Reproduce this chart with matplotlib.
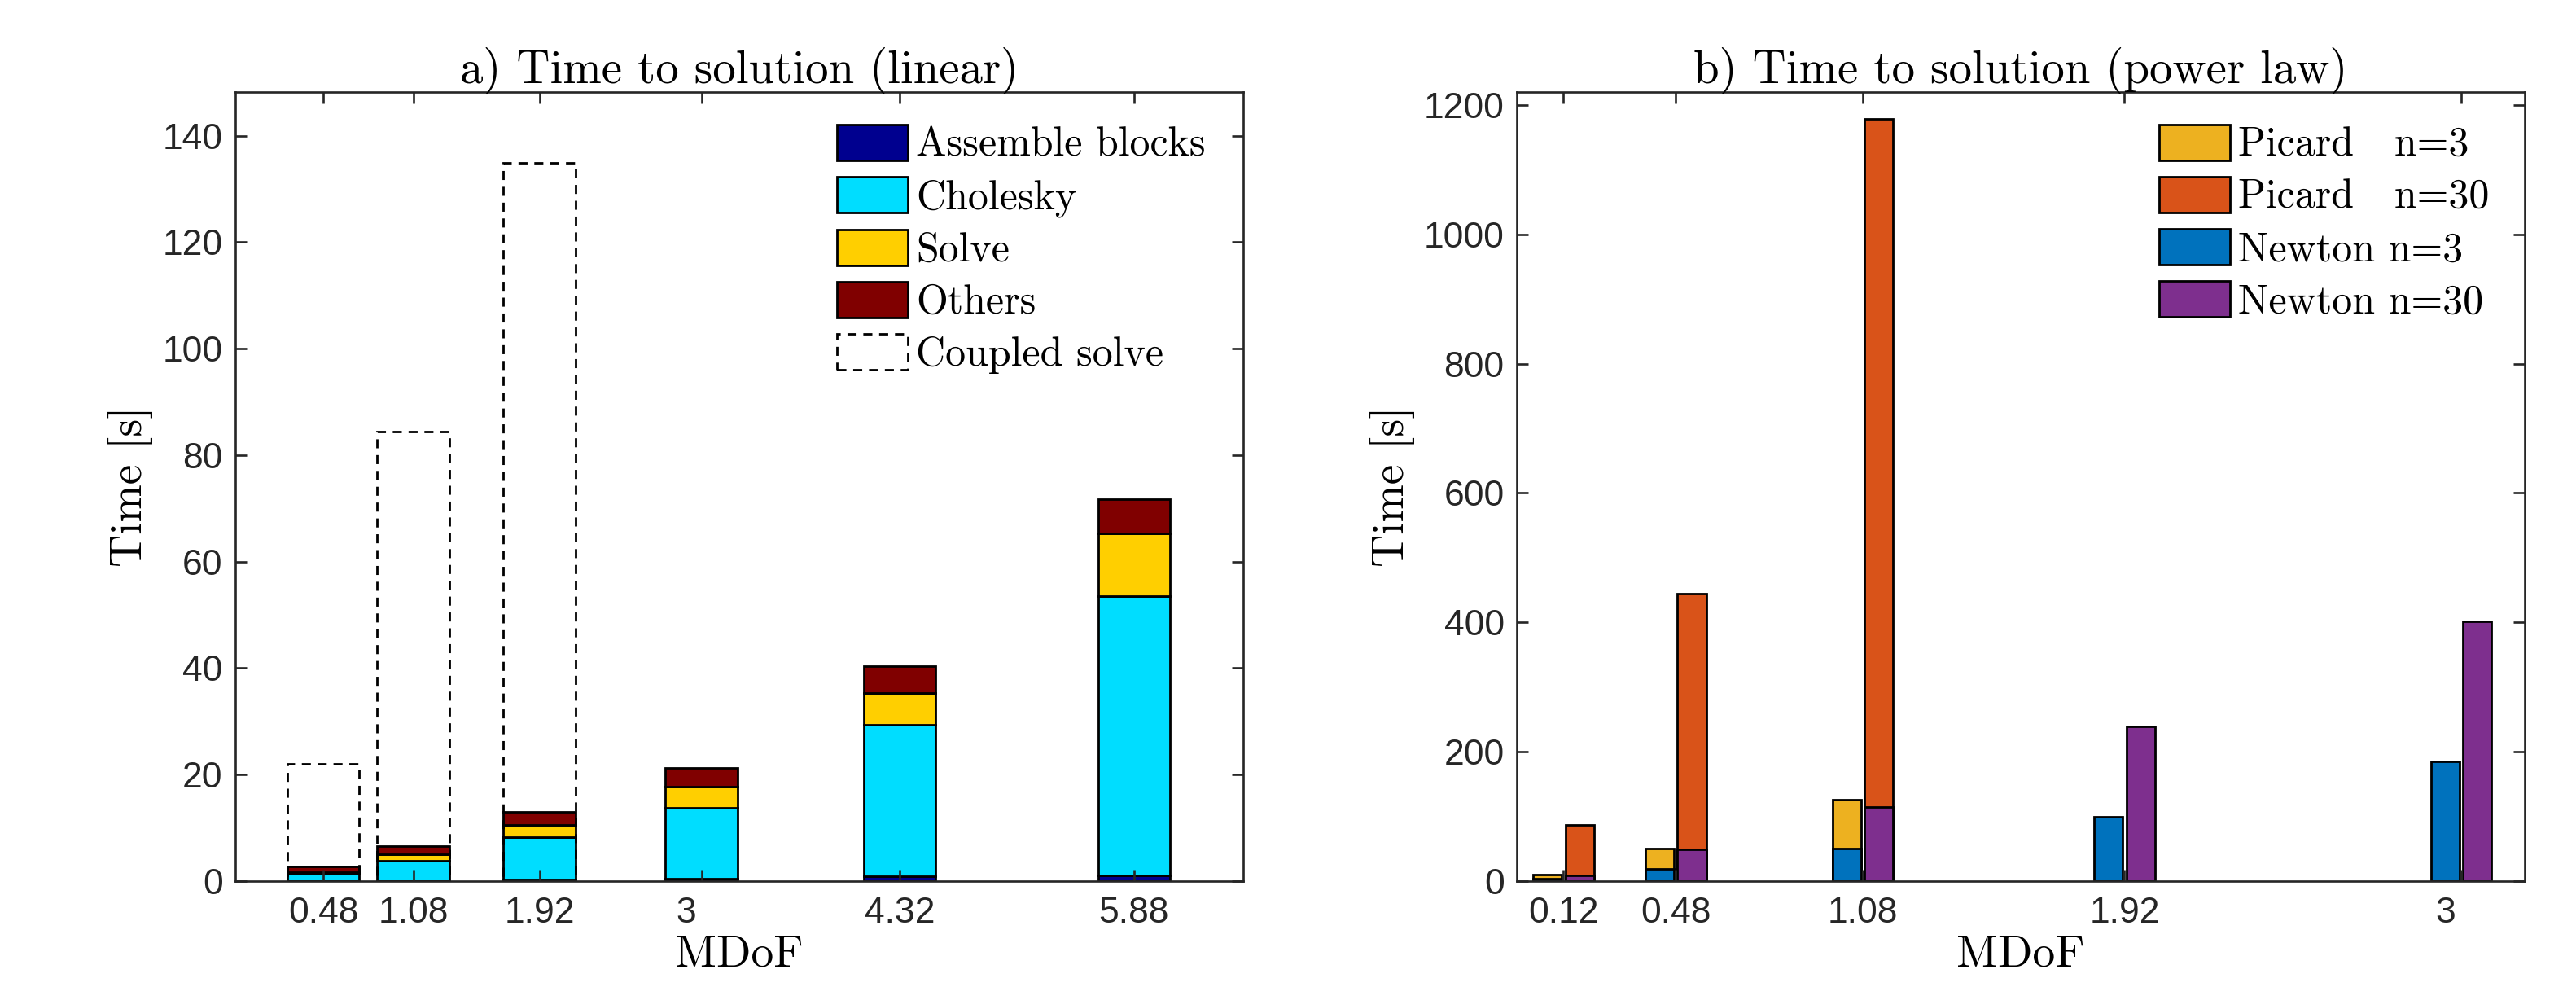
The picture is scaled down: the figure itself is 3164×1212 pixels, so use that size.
import numpy as np
import matplotlib.pyplot as plt
from matplotlib.patches import Patch
from matplotlib.transforms import ScaledTranslation

# a) linear case, stacked times per MDoF
mdof_lin = [0.48, 1.08, 1.92, 3, 4.32, 5.88]
assemble = [0.1, 0.1, 0.3, 0.5, 0.9, 1.1]
cholesky = [1.3, 3.8, 8.0, 13.3, 28.4, 52.5]
solve = [0.3, 1.2, 2.3, 4.0, 6.0, 11.7]
others = [1.1, 1.5, 2.4, 3.5, 5.0, 6.5]
mdof_coupled = [0.48, 1.08, 1.92]
coupled = [22.1, 84.4, 134.9]

# b) power law case
mdof_pow = [0.12, 0.48, 1.08, 1.92, 3]
picard_n3 = [10.5, 50.5, 126.5, np.nan, np.nan]
picard_n30 = [87.5, 444, 1178, np.nan, np.nan]
newton_n3 = [3.5, 19.5, 50.5, 99.3, 185]
newton_n30 = [9, 48.5, 114.5, 239.6, 402]

plt.rcParams['font.family'] = ['Liberation Sans', 'DejaVu Sans']
axcol = '#262626'
cm = 'cmr10'

fig = plt.figure(figsize=(31.64, 12.12), dpi=100)
W, H = 3164, 1212
ax1 = fig.add_axes([289 / W, (H - 1082) / H, 1238 / W, 969 / H])
ax2 = fig.add_axes([1863 / W, (H - 1082) / H, 1238 / W, 969 / H])


def style(ax):
    for s in ax.spines.values():
        s.set_color(axcol)
        s.set_linewidth(1.9)
    ax.tick_params(direction='in', top=True, right=True, length=10, width=1.9,
                   color=axcol, labelcolor=axcol, labelsize=32)
    ax.tick_params(axis='y', pad=11)
    ax.tick_params(axis='x', pad=14)


leg_kw = dict(loc='upper left', frameon=False, borderpad=0, borderaxespad=0,
              prop={'family': cm, 'size': 36}, handlelength=1.74,
              handleheight=0.98, handletextpad=0.2, labelspacing=0.3)

# ---- left panel
ek = dict(edgecolor='black', linewidth=2)
w1 = 0.48
bottom = np.zeros(len(mdof_lin))
segs = [(assemble, '#00008f', 'Assemble blocks'),
        (cholesky, '#00ddff', 'Cholesky'),
        (solve, '#ffcf00', 'Solve'),
        (others, '#800000', 'Others')]
handles = []
for vals, col, lab in segs:
    ax1.bar(mdof_lin, vals, w1, bottom=bottom, color=col, **ek)
    bottom += np.array(vals)
    handles.append(Patch(facecolor=col, edgecolor='black', linewidth=2, label=lab))
ax1.bar(mdof_coupled, coupled, w1, facecolor='none', edgecolor='black',
        linewidth=2, linestyle=(0, (4, 3)))
handles.append(Patch(facecolor='none', edgecolor='black', linewidth=2,
                     linestyle=(0, (4, 3)), label='Coupled solve'))

ax1.set_xlim(-0.106, 6.608)
ax1.set_ylim(0, 148.2)
ax1.set_yticks(np.arange(0, 141, 20))
ax1.set_xticks(mdof_lin)
ax1.set_xticklabels([f'{v:g}' for v in mdof_lin])
style(ax1)
ax1.set_title('a) Time to solution (linear)', family=cm, fontsize=41, pad=8)
ax1.set_xlabel('MDoF', family=cm, fontsize=40, labelpad=4)
ax1.set_ylabel('Time [s]', family=cm, fontsize=40, labelpad=8)
ax1.legend(handles=handles, bbox_to_anchor=(0.597, 0.959), **leg_kw)

# ---- right panel
w2 = 0.092
off = 0.0515
xp = np.array(mdof_pow)
ax2.bar(xp - off, picard_n3, w2, color='#edb120', **ek, label='Picard   n=3')
ax2.bar(xp + off, picard_n30, w2, color='#d95319', **ek, label='Picard   n=30')
ax2.bar(xp - off, newton_n3, w2, color='#0072bd', **ek, label='Newton n=3')
ax2.bar(xp + off, newton_n30, w2, color='#7e2f8e', **ek, label='Newton n=30')

ax2.set_xlim(-0.030, 3.204)
ax2.set_ylim(0, 1220)
ax2.set_yticks(np.arange(0, 1201, 200))
ax2.set_xticks(mdof_pow)
ax2.set_xticklabels([f'{v:g}' for v in mdof_pow])
style(ax2)
ax2.set_title('b) Time to solution (power law)', family=cm, fontsize=41, pad=8)
ax2.set_xlabel('MDoF', family=cm, fontsize=40, labelpad=4)
ax2.set_ylabel('Time [s]', family=cm, fontsize=40, labelpad=8)
ax2.legend(bbox_to_anchor=(0.637, 0.959), **leg_kw)

# the "3" labels sit a little left of their ticks in the original
for ax in (ax1, ax2):
    for lab in ax.get_xticklabels():
        if lab.get_text() == '3':
            lab.set_transform(lab.get_transform() +
                              ScaledTranslation(-0.19, 0, fig.dpi_scale_trans))

fig.savefig('out.png', dpi=100)
